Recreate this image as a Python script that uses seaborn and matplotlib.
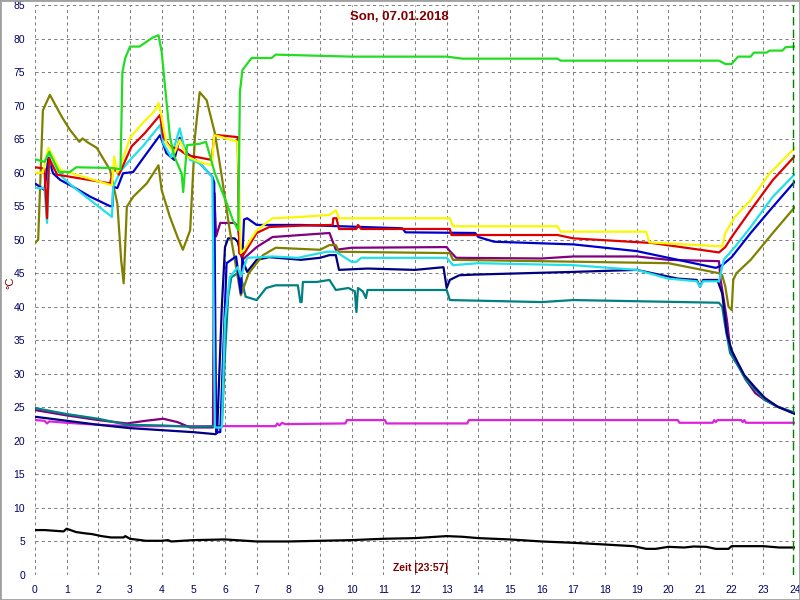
import numpy as np
import pandas as pd
import matplotlib
matplotlib.use("Agg")
import matplotlib.pyplot as plt
import seaborn as sns

# ---------------- data (hours, degC) ----------------
green_t = [0, 0.3, 0.45, 0.75, 1.1, 1.3, 2.4, 2.7, 2.76, 2.85, 3.0, 3.3, 3.7, 3.9, 4.0, 4.26, 4.4, 4.63, 4.68, 4.8, 5.2, 5.4,
           5.68, 6.05, 6.25, 6.42, 6.47, 6.55, 6.84, 7.47, 7.6, 10, 13, 13.5, 16.5, 16.6, 21.6, 21.8, 22.0, 22.2, 22.6, 22.7,
           23.1, 23.2, 23.6, 23.7, 24]
green_v = [62, 61.6, 63.1, 60.1, 60.1, 60.8, 60.7, 60.5, 75, 77.1, 78.8, 78.8, 80.1, 80.5, 78, 65.4, 62.4, 59.9, 57.1, 64.1,
           64.3, 64.6, 59.9, 55.5, 52.9, 51.4, 72, 75.3, 77.1, 77.1, 77.6, 77.3, 77.3, 77.0, 77.0, 76.7, 76.7, 76.2, 76.2,
           77.3, 77.3, 77.9, 77.9, 78.2, 78.2, 78.7, 78.8]

yellow_t = [0, 0.25, 0.42, 0.8, 2.43, 2.5, 2.6, 2.7, 3.0, 3.4, 3.8, 3.9, 4.0, 4.15, 4.4, 4.57, 4.8, 5.2, 5.58, 5.66, 6.4,
            6.5, 6.6, 7.0, 7.5, 8.4, 9.3, 9.5, 9.6, 13.1, 13.2, 16.5, 16.6, 19.3, 19.4, 21.7, 21.8, 22.1, 22.6, 23.2, 24]
yellow_v = [60, 60, 63.7, 60.4, 58.1, 62.4, 60, 60.9, 65.2, 67.4, 69.3, 70.4, 68.3, 64.4, 62.9, 64.9, 62.4, 61.6, 61.1, 65.6,
            64.6, 48, 48.5, 51.4, 53.2, 53.4, 53.7, 54.4, 53.2, 53.2, 52.0, 52.0, 51.2, 51.2, 49.6, 49.0, 51, 53.4, 55.9,
            59.9, 63.7]

red_t = [0, 0.3, 0.38, 0.44, 0.7, 2.37, 2.5, 2.65, 3.05, 3.47, 3.95, 4.05, 4.26, 4.57, 4.8, 5.58, 5.66, 5.75, 6.4, 6.45,
         6.55, 7.0, 7.4, 8.4, 9.4, 9.42, 9.52, 9.6, 10.15, 10.2, 10.3, 13.1, 13.15, 16.5, 17, 19.5, 21.6, 21.8, 22.0, 22.6,
         23.3, 24]
red_v = [60.8, 60.6, 53.2, 62.2, 59.7, 58.4, 60.7, 59.7, 63.9, 65.9, 68.6, 65.3, 63.9, 63.4, 62.6, 61.9, 65.6, 65.6, 65.3,
         48, 47.5, 51, 51.9, 52.1, 52.2, 53.2, 53.2, 51.6, 51.6, 52.2, 51.6, 51.6, 50.7, 50.7, 50.2, 49.5, 48.1, 48.9, 50.4,
         54.4, 58.9, 62.5]

cyan_t = [0, 0.3, 0.38, 0.47, 0.85, 1.2, 2.43, 2.47, 2.7, 3.0, 3.4, 3.95, 4.05, 4.3, 4.57, 4.73, 4.9, 5.2, 5.6, 5.68, 5.9,
          6.0, 6.15, 6.4, 6.5, 6.7, 7.5, 8.3, 9.2, 9.5, 10.0, 10.15, 10.3, 10.5, 13.0, 13.2, 14, 17, 19, 20, 20.9, 21.0,
          21.1, 21.6, 21.75, 22.1, 22.6, 23.3, 24]
cyan_v = [57.7, 57.7, 52.5, 63.2, 59.4, 57.9, 53.4, 57.9, 60.2, 61.9, 63.9, 67.1, 64.4, 62.3, 66.6, 63.4, 61.9, 61.4, 59.4,
          22, 22, 38, 44.4, 45.9, 44.5, 47.3, 47.5, 47.3, 48.2, 48.2, 46.7, 46.7, 47.3, 47.3, 47.3, 46.2, 46.5, 46.2, 45.5,
          44.2, 43.8, 43, 43.8, 43.8, 47, 48.9, 51.9, 56.4, 59.8]

blue_t = [0, 0.3, 0.42, 0.57, 0.8, 1.2, 1.75, 2.37, 2.45, 2.47, 2.6, 2.78, 3.1, 3.53, 3.95, 4.15, 4.4, 4.57, 4.8, 5.2, 5.6,
          5.66, 5.72, 5.85, 6.05, 6.35, 6.5, 6.6, 6.7, 7.0, 7.2, 8.4, 11.6, 11.7, 13.9, 14.0, 14.5, 17, 19, 21.5, 21.7,
          22.0, 22.6, 23.3, 24]
blue_v = [58.4, 57.4, 62.2, 59.9, 58.9, 57.9, 56.4, 55, 55, 57.9, 57.7, 59.9, 60.1, 62.9, 65.6, 62.9, 61.9, 65.2, 62.9,
          61.4, 59.4, 58.5, 21.3, 21.3, 46.5, 47.5, 42, 53, 53.2, 52.2, 52.2, 52.2, 51.7, 51.1, 51.0, 50.4, 49.7, 49.3,
          48.3, 45.8, 46.2, 47.4, 51, 54.9, 58.7]

olive_t = [0, 0.1, 0.25, 0.47, 0.85, 1.1, 1.4, 1.5, 1.67, 1.95, 2.37, 2.6, 2.72, 2.8, 2.9, 3.1, 3.53, 3.9, 4.0, 4.26, 4.5,
           4.67, 4.9, 5.05, 5.2, 5.42, 5.68, 5.9, 6.15, 6.5, 6.75, 7.2, 7.6, 9.0, 9.3, 9.5, 9.6, 13.1, 13.2, 20, 21.6,
           21.7, 21.8, 21.9, 22.0, 22.05, 22.15, 22.6, 23.3, 24]
olive_v = [49.5, 50, 69.3, 71.6, 68.3, 66.4, 64.6, 65.1, 64.5, 63.7, 60.4, 55.4, 47, 43.5, 54.9, 56.4, 58.4, 61.1, 57.4,
           53.4, 50.4, 48.5, 51.4, 65.3, 72, 70.8, 65.9, 59.4, 51.4, 41.7, 45, 47.7, 48.8, 48.5, 49.2, 49.2, 48.2, 48.0,
           47.0, 46.5, 45.0, 44.7, 43, 40, 39.5, 44, 45, 47, 51, 54.9]

purple_t = [0, 1, 2, 2.9, 3.5, 4.05, 4.5, 4.9, 5.6, 5.62, 5.66, 5.72, 5.85, 6.3, 6.4, 6.55, 7.0, 7.5, 8.4, 9.3, 9.5, 10,
            13, 13.1, 13.3, 16, 17, 19, 20, 21.6, 21.65, 21.72, 21.85, 21.95, 22.1, 22.25, 22.45, 22.75, 23.05, 23.45, 24]
purple_v = [24.6, 23.8, 23.1, 22.6, 23.0, 23.3, 22.8, 22.0, 22.0, 22.0, 57, 50.5, 52.5, 52.5, 52, 47, 48.9, 50.4, 50.7, 51,
            48.5, 48.8, 48.9, 48.3, 47.3, 47.2, 47.5, 47.5, 47, 46.8, 44, 42, 38, 34, 32, 31, 29.1, 27.1, 26.1, 25.1, 24.1]

navy_t = [0, 1, 2, 3, 4, 5, 5.7, 5.75, 5.9, 6.0, 6.1, 6.3, 6.4, 6.55, 6.7, 7.0, 7.4, 8.4, 9.0, 9.3, 9.5, 9.6, 10.5, 12,
          12.9, 13.0, 13.1, 13.4, 13.9, 17, 19, 20.3, 20.9, 21.0, 21.1, 21.55, 21.7, 21.85, 22.0, 22.2, 22.4, 22.75, 23.05,
          23.45, 24]
navy_v = [23.6, 23.0, 22.4, 21.9, 21.6, 21.3, 21.0, 21.2, 40, 48.9, 50.2, 50.2, 49.7, 47, 45.2, 47, 47.4, 47, 47.3, 47.7,
          47.7, 45.5, 45.7, 45.5, 45.9, 42.8, 44, 44.7, 44.8, 45.2, 45.5, 44.2, 44, 43, 44, 44, 42, 36, 33.5, 31.6, 29.8,
          27.9, 26.4, 25.1, 24.0]

teal_t = [0, 1, 2, 2.9, 4, 5, 5.9, 6.0, 6.1, 6.2, 6.4, 6.5, 6.65, 7.0, 7.3, 7.6, 8.3, 8.38, 8.42, 8.46, 8.9, 9.3, 9.5, 9.9,
          10.1, 10.15, 10.2, 10.35, 10.45, 10.5, 13.0, 13.1, 16, 17, 21.6, 21.7, 21.8, 21.95, 22.15, 22.45, 22.75, 23.05,
          23.45, 24]
teal_v = [24.9, 24.0, 23.3, 22.4, 22.3, 22.1, 22.2, 33, 41.5, 44.4, 45, 44.5, 41.5, 41, 42.8, 43.2, 43.2, 40.7, 40.7, 43.7,
          43.7, 44, 42.5, 42.8, 42.3, 39.2, 42.8, 42.3, 41.3, 42.5, 42.5, 41, 40.7, 41, 40.6, 40, 37, 33.1, 31.6, 29.1, 27.6,
          26.1, 25.1, 24.2]

magenta_t = [0, 0.3, 0.38, 0.45, 1, 2, 3, 7.6, 7.65, 7.72, 7.8, 7.9, 9.8, 9.85, 11.05, 11.1, 13.65, 13.7, 20.3, 20.35,
             21.4, 21.45, 21.5, 21.55, 22.3, 22.35, 22.4, 22.45, 24]
magenta_v = [23.1, 23.0, 22.6, 22.9, 22.7, 22.4, 22.2, 22.2, 22.6, 22.3, 22.7, 22.5, 22.6, 23.1, 23.1, 22.6, 22.6, 23.1,
             23.1, 22.7, 22.7, 23.1, 22.8, 23.1, 23.1, 22.8, 23.1, 22.7, 22.7]

black_t = [0, 0.3, 0.6, 0.9, 1.0, 1.3, 1.6, 1.8, 2.1, 2.4, 2.8, 2.85, 3.0, 3.5, 4.0, 4.2, 4.3, 5, 6, 7, 8, 9, 10, 11, 12,
           13, 13.5, 14, 15, 16, 17, 17.8, 18.9, 19.3, 19.6, 20, 20.5, 20.8, 21.2, 21.5, 21.9, 22.0, 23, 23.5, 24]
black_v = [6.7, 6.7, 6.6, 6.5, 6.9, 6.4, 6.2, 6.1, 5.8, 5.6, 5.6, 5.8, 5.4, 5.1, 5.1, 5.2, 5.0, 5.2, 5.3, 5.0, 5.0, 5.1,
           5.2, 5.4, 5.5, 5.8, 5.7, 5.5, 5.3, 5.0, 4.8, 4.6, 4.3, 3.9, 3.9, 4.2, 4.1, 4.25, 4.2, 3.9, 3.9, 4.3, 4.3, 4.1, 4.1]

series = [
    ("Aussen", black_t, black_v, "#000000"),
    ("Raum", magenta_t, magenta_v, "#DD22DD"),
    ("Vorlauf 2", purple_t, purple_v, "#800080"),
    ("Ruecklauf", teal_t, teal_v, "#008080"),
    ("Vorlauf HK", navy_t, navy_v, "#000080"),
    ("Speicher unten", olive_t, olive_v, "#808000"),
    ("Speicher 3", blue_t, blue_v, "#0000CC"),
    ("Speicher 2", cyan_t, cyan_v, "#22E0E8"),
    ("Speicher 1", red_t, red_v, "#DD0000"),
    ("Speicher oben", yellow_t, yellow_v, "#F8F800"),
    ("Kessel", green_t, green_v, "#22DD22"),
]

x_ticks = list(range(0, 25))
y_ticks = list(range(0, 90, 5))
title_text = "Son, 07.01.2018"
xlabel_text = "Zeit [23:57]"
ylabel_text = "°C"
now_hour = 23.95

# ---------------- build long table ----------------
frames = []
for name, t, v, c in series:
    frames.append(pd.DataFrame({"Zeit": t, "Temp": v, "Sensor": name}))
df = pd.concat(frames, ignore_index=True)
palette = {name: c for name, t, v, c in series}

sns.set_style("white")
plt.rcParams["font.family"] = ["Liberation Sans", "DejaVu Sans"]

fig = plt.figure(figsize=(8, 6), dpi=100)
fig.patch.set_facecolor("white")
ax = fig.add_axes([35 / 800, 25 / 600, 760 / 800, 570 / 600])

# grid
for xv in x_ticks:
    ax.axvline(xv, color="#808080", lw=0.75, ls=(0, (3, 3)), zorder=0)
for yv in y_ticks:
    ax.axhline(yv, color="#808080", lw=0.75, ls=(0, (3, 3)), zorder=0)

sns.lineplot(data=df, x="Zeit", y="Temp", hue="Sensor", palette=palette, hue_order=[s[0] for s in series],
             sort=False, estimator=None, legend=False, linewidth=1.6, ax=ax)

ax.axvline(now_hour, color="#008000", lw=1.0, ls=(0, (6, 3)), zorder=5)

ax.set_xlim(0, 24)
ax.set_ylim(0, 85)
ax.set_xticks(x_ticks)
ax.set_yticks(y_ticks)
ax.set_xticks(np.arange(0, 24.01, 0.1), minor=True)
ax.set_yticks(np.arange(0, 86, 1), minor=True)
ax.tick_params(axis="both", which="major", labelsize=7.5, labelcolor="#000066", color="black")
ax.tick_params(axis="y", which="major", length=6, width=1, direction="out", pad=1)
ax.tick_params(axis="y", which="minor", length=3, width=1, direction="out")
ax.tick_params(axis="x", which="major", length=5, width=1, direction="out", pad=2)
ax.tick_params(axis="x", which="minor", length=4, width=0.8, direction="out")
for s in ax.spines.values():
    s.set_visible(False)
ax.set_xlabel("")
ax.set_ylabel("")
ax.set_facecolor("white")

ax.text(0.48, 0.979, title_text, transform=ax.transAxes, ha="center", va="center",
        color="#800000", fontsize=9.5, fontweight="bold")
ax.text(0.507, 0.012, xlabel_text, transform=ax.transAxes, ha="center", va="center",
        color="#800000", fontsize=7.5, fontweight="bold")
fig.text(0.0125, 0.528, ylabel_text, rotation=90, ha="center", va="center", color="#800000", fontsize=8)

border = plt.Rectangle((0, 0), 1, 1, transform=fig.transFigure, fill=False, edgecolor="#A0A0A0", lw=2)
fig.add_artist(border)

fig.savefig("out.png", dpi=100)
